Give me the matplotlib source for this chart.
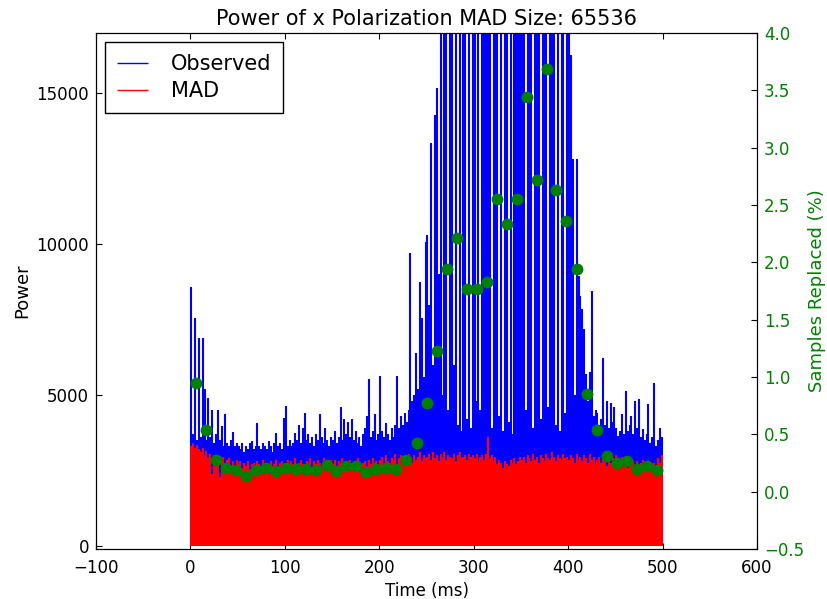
import numpy as np
import matplotlib
matplotlib.use("Agg")
import matplotlib.pyplot as plt

# sample grid of the power series (ms), one value every 2 ms
times = np.arange(1, 500, 2)

# observed power, peak value in each 2 ms bin (values above 17000 are clipped)
observed = [
    8570, 3700, 7570, 3500, 6880, 3600, 6880, 5190, 3500, 4920, 3600, 4520, 3400,
    3700, 4520, 3500, 3970, 3300, 4360, 3400, 3300, 3500, 3770, 3300, 3400,
    3300, 3200, 3400, 3100, 3300, 3200, 3400, 3470, 3200, 3300, 4080, 3300, 3200,
    3400, 3300, 3200, 3470, 3300, 3100, 3400, 3760, 3300, 3400, 3200, 4250,
    4630, 3300, 3500, 3300, 3400, 3760, 3500, 4020, 3400, 3900, 4420, 3500, 3700,
    3400, 3600, 3300, 3700, 3500, 4360, 3600, 3400, 3900, 3500, 3300, 3600,
    3500, 3800, 3400, 3600, 4590, 3500, 4200, 3700, 4100, 3600, 4200, 3500, 3800,
    3400, 3600, 3300, 3700, 3900, 4300, 5520, 3600, 3800, 4360, 3500, 3700,
    5630, 3800, 3600, 4070, 3700, 3500, 3900, 3600, 4000, 5630, 3900, 4300, 4000,
    4420, 4100, 4500, 9700, 4800, 5000, 6410, 5200, 8740, 7570, 5600, 10070,
    10290, 8000, 13340, 6000, 14280, 15170, 9000, 17500, 5000, 17500, 17500, 4500, 17500,
    17500, 6000, 17500, 4000, 17500, 3800, 17500, 17500, 4200, 17500, 3900, 17500,
    17500, 4800, 17500, 4500, 17500, 17500, 17500, 17500, 17500, 3900, 17500, 17500, 17500,
    4300, 17500, 3800, 17500, 17500, 4100, 17500, 3700, 17500, 17500, 17500, 17500,
    17500, 17500, 4500, 17500, 17500, 17500, 3900, 17500, 17500, 17500, 4200, 17500, 17500,
    17500, 4600, 17500, 17500, 17500, 4000, 17500, 3800, 17500, 17500, 4400, 17500,
    17500, 16270, 12840, 5000, 12840, 8960, 8290, 7850, 7180, 5690, 4800, 5750,
    8460, 4300, 4520, 4420, 4000, 4200, 6240, 4000, 4800, 3900, 4750, 4100, 4590,
    3900, 3640, 3800, 4360, 3700, 5130, 3800, 4000, 4300, 3700, 4800, 3900, 4860,
    3600, 3860, 3500, 3700, 4690, 3400, 3600, 5410, 3300, 3500, 3910, 3600,
]

# MAD power, peak value in each 2 ms bin
mad = [
    3300, 3400, 3250, 3350, 3200, 3100, 3250, 3000, 3150, 2900, 3050, 2400, 3000,
    2950, 2750, 2300, 2800, 2950, 2700, 2850, 2900, 2650, 2800, 2450, 2850,
    2700, 2800, 2600, 2750, 2650, 2800, 2550, 2700, 2750, 2600, 2800, 2700, 2650,
    2850, 2600, 2750, 2400, 2800, 2650, 2700, 2850, 2600, 2750, 2800, 2700,
    2750, 2850, 2650, 2800, 2700, 2900, 2600, 2750, 2850, 2700, 2650, 2800, 2750,
    2900, 2600, 2800, 2700, 2850, 2750, 2650, 2900, 2700, 2800, 2750, 2850,
    2700, 2850, 2600, 2800, 2750, 2900, 2650, 2800, 2700, 2850, 2750, 2600, 2800,
    2900, 2700, 2500, 2750, 2800, 2650, 2850, 2700, 2900, 2750, 2800, 2650,
    2850, 2950, 2700, 3000, 2800, 2750, 2900, 2850, 3050, 2700, 2900, 3000, 2800,
    2950, 2850, 3050, 2900, 2750, 3000, 2850, 2950, 3100, 2800, 3000, 2900,
    2950, 3050, 2850, 3100, 2900, 3000, 2800, 3050, 2950, 3100, 2850, 3000, 2950,
    2900, 3050, 2800, 3000, 3100, 2900, 2950, 3000, 2850, 3050, 2950, 3000,
    2900, 3050, 2800, 2950, 3000, 2850, 3050, 3600, 2900, 3000, 2800, 2950, 2700,
    2850, 2750, 2600, 2800, 2700, 2650, 2850, 2750, 2900, 2700, 2800, 2950,
    2850, 2950, 2750, 3000, 2900, 2800, 3050, 2850, 2950, 2750, 3000, 2900, 2800,
    3050, 2900, 2850, 3100, 2950, 2800, 3000, 2900, 2850, 3050, 2900, 2950,
    2850, 3000, 2900, 2750, 3050, 2850, 2950, 2800, 3000, 2900, 2750, 3050, 2850,
    2950, 2700, 2850, 2950, 2750, 2900, 2800, 2650, 2850, 2750, 2900, 2700,
    3000, 2900, 2800, 2950, 2700, 2850, 2600, 2900, 2750, 2850, 2650, 2800, 2550,
    2750, 2850, 2700, 2600, 2800, 2700, 2500, 2750, 2650, 2900, 2750, 3000,
]

# percentage of samples replaced per MAD block
block_times = [
    5.5, 16.1, 26.7, 37.2, 47.8, 58.4, 69.0, 79.5, 90.1, 100.7, 111.9, 122.5,
    133.3, 144.1, 154.6, 165.2, 175.8, 186.4, 196.9, 207.5, 218.1, 228.7, 239.6,
    250.1, 260.7, 271.3, 281.9, 292.4, 303.0, 313.6, 324.2, 334.8, 345.3, 355.9,
    366.5, 377.1, 387.6, 398.2, 409.3, 420.1, 430.7, 441.2, 451.8, 462.4, 473.0,
    483.5, 494.1,
]
replaced = [
    0.95, 0.54, 0.28, 0.21, 0.19, 0.14, 0.19, 0.21, 0.18, 0.21, 0.20, 0.20,
    0.19, 0.23, 0.18, 0.22, 0.22, 0.17, 0.20, 0.21, 0.20, 0.28, 0.42,
    0.77, 1.23, 1.94, 2.21, 1.77, 1.77, 1.83, 2.55, 2.33, 2.55, 3.44,
    2.72, 3.69, 2.63, 2.36, 1.94, 0.85, 0.54, 0.31, 0.25, 0.27, 0.20,
    0.22, 0.19,
]

plt.rcParams["font.family"] = "DejaVu Sans"
plt.rcParams["font.size"] = 12
plt.rcParams["xtick.direction"] = "in"
plt.rcParams["ytick.direction"] = "in"
plt.rcParams["xtick.major.size"] = 4
plt.rcParams["ytick.major.size"] = 4

fig = plt.figure(figsize=(8.27, 5.99), dpi=100)
ax = fig.add_axes([0.1161, 0.0835, 0.7993, 0.8614])

ax.vlines(times, 0, observed, colors="blue", linewidth=1.5, label="Observed")
ax.vlines(times, 0, mad, colors="red", linewidth=1.5, label="MAD")

ax.set_xlim(-100, 600)
ax.set_ylim(-100, 17000)
ax.set_yticks([0, 5000, 10000, 15000])
ax.set_xlabel("Time (ms)", labelpad=3.5)
ax.set_ylabel("Power", fontsize=13)
ax.set_title("Power of x Polarization MAD Size: 65536", fontsize=15)
ax.tick_params(top=True, right=False)
ax.tick_params(axis="x", pad=7.5)
ax.tick_params(axis="y", pad=5)

leg = ax.legend(loc="upper left", fontsize=15, fancybox=False, framealpha=1,
                edgecolor="black", borderpad=0.55, borderaxespad=0.45,
                handlelength=1.5, handletextpad=1.1, labelspacing=0.35)
leg.get_frame().set_linewidth(1.0)
for h in leg.legend_handles:
    h.set_linewidth(1.0)

ax2 = ax.twinx()
ax2.plot(block_times, replaced, "o", color="green", markersize=7.5,
         markeredgecolor="green")
ax2.set_ylim(-0.5, 4.0)
ax2.set_yticks(np.arange(-0.5, 4.01, 0.5))
ax2.set_ylabel("Samples Replaced (%)", color="green", fontsize=13, labelpad=3)
ax2.tick_params(axis="y", labelcolor="green", direction="in", pad=5)

fig.savefig("out.png", dpi=100)
plt.close(fig)
